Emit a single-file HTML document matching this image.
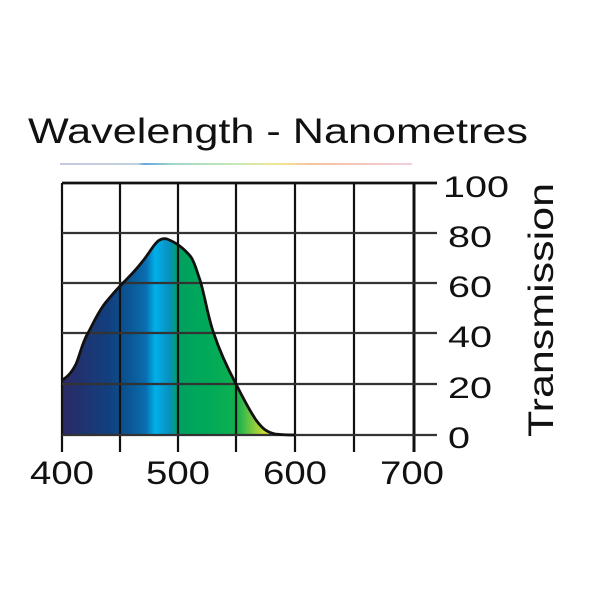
<!DOCTYPE html>
<html><head><style>body{margin:0;background:#fff}svg{display:block}</style></head><body>
<svg width="600" height="600" viewBox="0 0 600 600" xmlns="http://www.w3.org/2000/svg" font-family="Liberation Sans, sans-serif">
<defs>
<linearGradient id="g" gradientUnits="userSpaceOnUse" x1="62" y1="0" x2="295" y2="0">
<stop offset="0" stop-color="#2b2a66"/>
<stop offset="0.2" stop-color="#123f7e"/>
<stop offset="0.3" stop-color="#0a5a98"/>
<stop offset="0.36" stop-color="#0a6eb0"/>
<stop offset="0.4" stop-color="#00b0ea"/>
<stop offset="0.46" stop-color="#0a90c0"/>
<stop offset="0.5" stop-color="#00a060"/>
<stop offset="0.63" stop-color="#00aa58"/>
<stop offset="0.75" stop-color="#10b050"/>
<stop offset="0.88" stop-color="#e0e030"/>
<stop offset="1" stop-color="#f0f060"/>
</linearGradient>
<linearGradient id="r" x1="0" x2="1">
<stop offset="0" stop-color="#c8c8e0"/><stop offset="0.22" stop-color="#c0d0e0"/>
<stop offset="0.24" stop-color="#60a8e0"/><stop offset="0.32" stop-color="#a0d8c8"/>
<stop offset="0.5" stop-color="#c8e8b8"/><stop offset="0.62" stop-color="#f0e890"/>
<stop offset="0.72" stop-color="#f8c0a0"/><stop offset="1" stop-color="#f0d0d8"/>
</linearGradient>
</defs>
<text x="28" y="143" font-size="35" fill="#111" textLength="500" lengthAdjust="spacingAndGlyphs">Wavelength - Nanometres</text>
<rect x="60" y="163" width="352" height="2" fill="url(#r)"/>
<path id="c" d="M62,380 C68,377 72,372 76,364 C80,355 82,343 88,333 C94,322 98,312 106,302 C112,295 116,290 122,284 C130,276 136,270 142,262 C148,255 152,247 157,242 C160,239 163,238 167,239 C175,242 183,247 191,257 C195,263 197,272 200,280 C205,296 208,318 214,334 C220,352 228,369 236,384 C242,396 248,408 256,420 C262,428 266,432 275,434 C283,435 290,435 295,435 L62,435 Z" fill="url(#g)"/>
<g stroke="#111" stroke-width="2.2" fill="none">
<line x1="62" y1="183" x2="62" y2="452"/>
<line x1="120" y1="183" x2="120" y2="452"/>
<line x1="178" y1="183" x2="178" y2="452"/>
<line x1="236" y1="183" x2="236" y2="452"/>
<line x1="295" y1="183" x2="295" y2="452"/>
<line x1="354" y1="183" x2="354" y2="452"/>
<line x1="414" y1="183" x2="414" y2="452" stroke-width="3"/>
<line x1="62" y1="183" x2="437" y2="183" stroke-width="2.8"/>
<line x1="62" y1="233" x2="437" y2="233" stroke="#333"/>
<line x1="62" y1="283" x2="437" y2="283" stroke="#333"/>
<line x1="62" y1="333" x2="437" y2="333" stroke="#333"/>
<line x1="62" y1="384" x2="437" y2="384" stroke="#333"/>
<line x1="62" y1="435" x2="437" y2="435" stroke="#333"/>
<path d="M62,380 C68,377 72,372 76,364 C80,355 82,343 88,333 C94,322 98,312 106,302 C112,295 116,290 122,284 C130,276 136,270 142,262 C148,255 152,247 157,242 C160,239 163,238 167,239 C175,242 183,247 191,257 C195,263 197,272 200,280 C205,296 208,318 214,334 C220,352 228,369 236,384 C242,396 248,408 256,420 C262,428 266,432 275,434 C283,435 290,435 295,435" stroke-width="2.8" stroke-linejoin="round"/>
</g>
<g font-size="30" fill="#111" lengthAdjust="spacingAndGlyphs">
<text x="443" y="197" textLength="66" lengthAdjust="spacingAndGlyphs">100</text>
<text x="448" y="247" textLength="44" lengthAdjust="spacingAndGlyphs">80</text>
<text x="448" y="297" textLength="44" lengthAdjust="spacingAndGlyphs">60</text>
<text x="448" y="347" textLength="44" lengthAdjust="spacingAndGlyphs">40</text>
<text x="448" y="398" textLength="44" lengthAdjust="spacingAndGlyphs">20</text>
<text x="448" y="448" textLength="22" lengthAdjust="spacingAndGlyphs">0</text>
</g>
<g font-size="32" fill="#111" text-anchor="middle">
<text x="62" y="484" textLength="64" lengthAdjust="spacingAndGlyphs">400</text>
<text x="178" y="484" textLength="64" lengthAdjust="spacingAndGlyphs">500</text>
<text x="295" y="484" textLength="64" lengthAdjust="spacingAndGlyphs">600</text>
<text x="412" y="484" textLength="64" lengthAdjust="spacingAndGlyphs">700</text>
</g>
<text transform="translate(553,310) rotate(-90)" font-size="35" fill="#111" text-anchor="middle" textLength="254" lengthAdjust="spacingAndGlyphs">Transmission</text>
</svg>
</body></html>
